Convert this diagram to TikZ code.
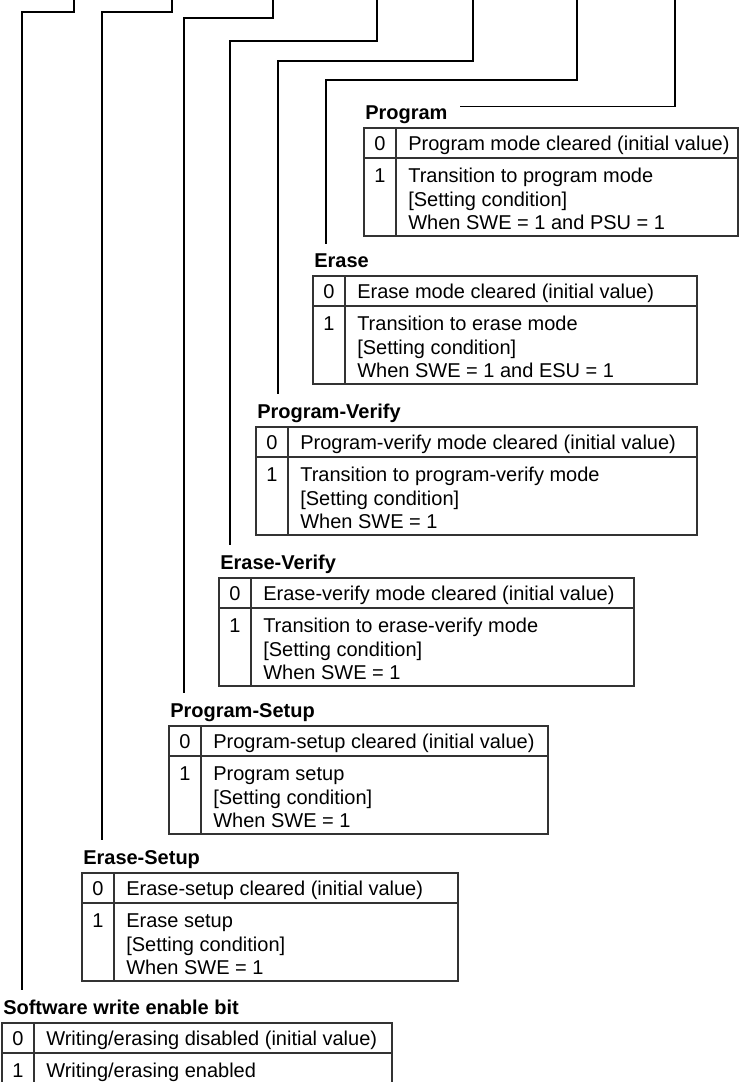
\documentclass[tikz,border=0pt]{standalone}
\usepackage{fontspec}
\setmainfont{Liberation Sans}
\tikzset{
  wire/.style={draw=black, line width=0.8pt},
  frame/.style={draw=black!80, line width=0.9pt},
  lbl/.style={font=\fontsize{15pt}{18pt}\selectfont\bfseries, inner sep=0pt, anchor=base west},
  cell/.style={font=\fontsize{15pt}{18pt}\selectfont, inner sep=0pt, anchor=base west},
  num/.style={font=\fontsize{15pt}{18pt}\selectfont, inner sep=0pt, anchor=base},
}
% #1 name, #2 left, #3 top, #4 right, #5 label, #6 row 0, #7-#9 row 1 lines
\newcommand\bittab[9]{%
  \node[lbl] (#1-lbl) at ({#2+1},{#3-9}) {#5};
  \draw[frame] (#2,#3) rectangle (#4,{#3+108});
  \draw[frame] ({#2+32},#3) -- ({#2+32},{#3+108});
  \draw[frame] (#2,{#3+30}) -- (#4,{#3+30});
  \node[num] (#1-n0) at ({#2+16},{#3+22}) {0};
  \node[cell] (#1-t0) at ({#2+44},{#3+22}) {#6};
  \node[num] (#1-n1) at ({#2+16},{#3+54.5}) {1};
  \node[cell] (#1-ta) at ({#2+44},{#3+54.5}) {#7};
  \node[cell] (#1-tb) at ({#2+44},{#3+78}) {#8};
  \node[cell] (#1-tc) at ({#2+44},{#3+101.5}) {#9};
}
\begin{document}
\begin{tikzpicture}[x=0.75pt,y=-0.75pt]
\useasboundingbox (0,0) rectangle (740,1082);

\bittab{prog}{364}{128}{738}{Program}{Program mode cleared (initial value)}{Transition to program mode}{{[}Setting condition{]}}{When SWE = 1 and PSU = 1}
\bittab{er}{313}{276}{697}{Erase}{Erase mode cleared (initial value)}{Transition to erase mode}{{[}Setting condition{]}}{When SWE = 1 and ESU = 1}
\bittab{pv}{256}{427}{697}{Program-Verify}{Program-verify mode cleared (initial value)}{Transition to program-verify mode}{{[}Setting condition{]}}{When SWE = 1}
\bittab{ev}{219}{578}{634}{Erase-Verify}{Erase-verify mode cleared (initial value)}{Transition to erase-verify mode}{{[}Setting condition{]}}{When SWE = 1}
\bittab{ps}{169}{726}{548}{Program-Setup}{Program-setup cleared (initial value)}{Program setup}{{[}Setting condition{]}}{When SWE = 1}
\bittab{es}{82}{873}{458}{Erase-Setup}{Erase-setup cleared (initial value)}{Erase setup}{{[}Setting condition{]}}{When SWE = 1}

% Software write enable bit (cut at the bottom edge)
\node[lbl] (swe-lbl) at (3,1014) {Software write enable bit};
\draw[frame] (2,1082) -- (2,1023) -- (392,1023) -- (392,1082);
\draw[frame] (34,1023) -- (34,1082);
\draw[frame] (2,1053) -- (392,1053);
\node[num] (swe-n0) at (18,1045) {0};
\node[cell] (swe-t0) at (46,1045) {Writing/erasing disabled (initial value)};
\node[num] (swe-n1) at (18,1077.5) {1};
\node[cell] (swe-ta) at (46,1077.5) {Writing/erasing enabled};

% connectors from the register bits
\coordinate (t1) at (74,0);  \coordinate (k1) at (22,12);
\coordinate (t2) at (172,0); \coordinate (k2) at (102,12);
\coordinate (t3) at (273,0); \coordinate (k3) at (184,18);
\coordinate (t4) at (377,0); \coordinate (k4) at (230,41);
\coordinate (t5) at (473,0); \coordinate (k5) at (278,61);
\coordinate (t6) at (577,0); \coordinate (k6) at (326,80);
\coordinate (t7) at (675,0);

\draw[wire] (t1) |- (k1) -- ([yshift=7pt]k1 |- swe-lbl.north);
\draw[wire] (t2) |- (k2) -- ([yshift=7pt]k2 |- es-lbl.north);
\draw[wire] (t3) |- (k3) -- ([yshift=7pt]k3 |- ps-lbl.north);
\draw[wire] (t4) |- (k4) -- ([yshift=7pt]k4 |- ev-lbl.north);
\draw[wire] (t5) |- (k5) -- ([yshift=7pt]k5 |- pv-lbl.north);
\draw[wire] (t6) |- (k6) -- ([yshift=7pt]k6 |- er-lbl.north);
\draw[wire] (t7) |- ([xshift=9pt,yshift=-1pt]prog-lbl.north east);
\end{tikzpicture}
\end{document}
